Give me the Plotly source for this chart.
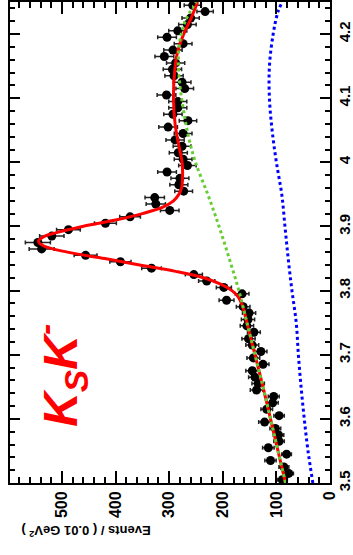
import plotly.graph_objects as go

# ---- data ----
mass_lo = 3.5
bin_width = 0.01
events = [89, 77, 86, 111, 81, 115, 95, 96, 102, 122,
          95, 118, 107, 105, 137, 134, 140, 145, 125, 143,
          129, 145, 152, 142, 155, 153, 151, 162, 193, 164,
          198, 230, 254, 333, 391, 456, 538, 545, 519, 488,
          419, 373, 299, 325, 327, 273, 282, 280, 304, 266,
          274, 283, 276, 289, 274, 302, 265, 293, 284, 284,
          305, 271, 276, 291, 294, 288, 309, 293, 274, 304,
          284, 266, 260, 233, 256]
mass = [round(mass_lo + bin_width * (i + 0.5), 4) for i in range(len(events))]

# total fit (red)
fit_m = [3.50, 3.55, 3.60, 3.65, 3.70, 3.75, 3.77, 3.78, 3.79, 3.80, 3.81, 3.82,
         3.83, 3.84, 3.85, 3.86, 3.87, 3.877, 3.885, 3.89, 3.90, 3.91, 3.92, 3.93,
         3.94, 3.95, 3.96, 3.98, 4.00, 4.03, 4.06, 4.10, 4.14, 4.17, 4.20, 4.225, 4.25]
fit_v = [83, 97, 111, 125, 140, 155, 161, 165, 171, 183, 204, 236,
         288, 355, 420, 490, 535, 544, 532, 512, 462, 400, 350, 312,
         292, 282, 277, 275, 276, 283, 289, 292, 290, 285, 273, 259, 247]

# background (green dotted)
bkg_m = [3.50, 3.55, 3.60, 3.65, 3.70, 3.75, 3.80, 3.85, 3.90, 3.95, 4.00,
         4.04, 4.08, 4.12, 4.16, 4.19, 4.22, 4.25]
bkg_v = [83, 97, 111, 125, 140, 155, 170, 188, 207, 228, 251,
         264, 273, 280, 283, 280, 270, 250]

# other component (blue dotted)
oth_m = [3.50, 3.55, 3.60, 3.65, 3.70, 3.75, 3.80, 3.85, 3.90, 3.95, 4.00,
         4.05, 4.10, 4.15, 4.20, 4.235, 4.25]
oth_v = [32, 41, 48, 54, 59, 63, 71, 78, 84, 90, 100,
         108, 113, 113, 106, 97, 89]

FONT = "Liberation Sans"

fig = go.Figure()

fig.add_trace(go.Scatter(
    x=events, y=mass, mode="markers",
    marker=dict(color="black", size=9),
    error_x=dict(type="sqrt", color="#222222", thickness=1.5, width=2),
    showlegend=False))

fig.add_trace(go.Scatter(
    x=fit_v, y=fit_m, mode="lines",
    line=dict(color="#ff0000", width=3, shape="spline"),
    showlegend=False))

fig.add_trace(go.Scatter(
    x=bkg_v, y=bkg_m, mode="lines",
    line=dict(color="#66cc33", width=3, dash="dot", shape="spline"),
    showlegend=False))

fig.add_trace(go.Scatter(
    x=oth_v, y=oth_m, mode="lines",
    line=dict(color="#0000ff", width=3, dash="dot", shape="spline"),
    showlegend=False))

fig.update_layout(
    width=353, height=555,
    margin=dict(l=10, r=14, t=0, b=72),
    paper_bgcolor="white", plot_bgcolor="white",
    xaxis=dict(
        range=[597, 0], showgrid=False, zeroline=False,
        showline=True, linecolor="black", linewidth=2, mirror="allticks",
        ticks="inside", ticklen=12, tickwidth=1.5, tickcolor="black",
        dtick=100, tick0=0, tickangle=-90,
        tickfont=dict(family=FONT, size=16, color="black", weight="bold"),
        minor=dict(dtick=20, ticks="inside", ticklen=6, tickwidth=1.5,
                   tickcolor="black", showgrid=False),
    ),
    yaxis=dict(
        range=[3.5, 4.25], side="right", showgrid=False, zeroline=False,
        showline=True, linecolor="black", linewidth=2, mirror="allticks",
        ticks="inside", ticklen=10, tickwidth=1.5, tickcolor="black",
        dtick=0.1, tick0=3.5, tickangle=-90,
        tickfont=dict(family=FONT, size=15, color="black", weight="bold"),
        minor=dict(dtick=0.02, ticks="inside", ticklen=5, tickwidth=1.5,
                   tickcolor="black", showgrid=False),
    ),
    annotations=[
        dict(text="Events / ( 0.01 GeV<sup>2</sup> )", xref="paper", yref="paper",
             x=0.237, y=-0.101, xanchor="center", yanchor="middle",
             textangle=180, showarrow=False,
             font=dict(family=FONT, size=13, color="black", weight="bold")),
        dict(text="<b><i>K<sub>S</sub>K<sup>-</sup></i></b>", xref="paper", yref="paper",
             x=0.158, y=0.224, xanchor="center", yanchor="middle",
             textangle=-90, showarrow=False,
             font=dict(family=FONT, size=48, color="#ff0000")),
    ],
)

fig.write_html("out.html",
               config={"displayModeBar": False},
               post_script="document.body.style.margin='0';"
                           "document.body.style.overflow='hidden';")
